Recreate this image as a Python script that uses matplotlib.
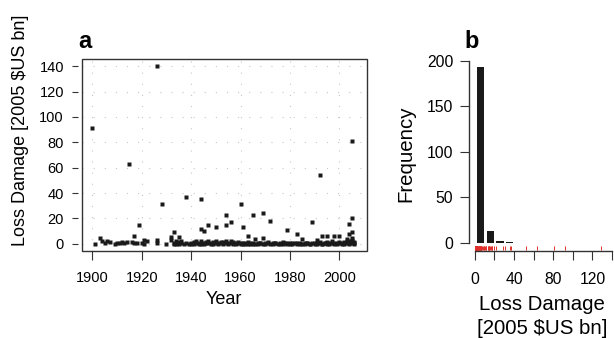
import numpy as np
import matplotlib.pyplot as plt
from matplotlib.patches import Rectangle

plt.rcParams['font.family'] = ['Liberation Sans', 'DejaVu Sans']

# Damaging events: year and normalised loss (2005 $US bn)
years_large = [1900, 1926, 1915, 1928, 1938, 1944, 1960, 2005, 1992, 1919,
               1954, 1954, 1956, 1947, 1950, 1944, 1945, 1933, 1961, 1965,
               1969, 1972, 1979, 1983, 1989, 2005, 2004, 2005, 2004, 1993,
               1995, 1998, 2000, 2003, 1903, 1904, 1906, 1917, 1921, 1926,
               1963, 1966, 1969, 1985, 1991, 1932, 1935]
loss_large = [91, 140, 63, 31.5, 37, 35.5, 31.5, 81, 54.5, 14.5,
              23, 15, 17, 15, 13, 11.5, 10, 9.5, 13, 23,
              24, 18, 11, 7.5, 17.5, 20.5, 15.5, 9, 8, 6,
              6, 6, 6, 4, 5, 2.5, 2.5, 6, 3, 3,
              6, 4, 5, 4, 3, 5.5, 5.5]

years_small = [1901, 1905, 1907, 1909, 1910, 1911, 1912, 1913, 1914, 1916,
               1917, 1918, 1920, 1921, 1922, 1926, 1930, 1932, 1933, 1933,
               1934, 1934, 1935, 1935, 1936, 1936, 1937, 1938, 1939, 1940,
               1940, 1941, 1941, 1942, 1942, 1943, 1943, 1944, 1944, 1945,
               1945, 1946, 1946, 1947, 1947, 1948, 1948, 1949, 1949, 1950,
               1950, 1951, 1951, 1952, 1952, 1953, 1953, 1954, 1954, 1955,
               1955, 1956, 1956, 1957, 1957, 1958, 1958, 1959, 1959, 1960,
               1960, 1961, 1961, 1962, 1962, 1963, 1963, 1964, 1964, 1965,
               1965, 1966, 1967, 1967, 1968, 1968, 1969, 1970, 1970, 1971,
               1971, 1972, 1973, 1973, 1974, 1974, 1975, 1976, 1976, 1977,
               1977, 1978, 1979, 1979, 1980, 1980, 1981, 1981, 1982, 1983,
               1983, 1984, 1984, 1985, 1986, 1986, 1987, 1987, 1988, 1988,
               1989, 1990, 1990, 1991, 1991, 1992, 1992, 1993, 1993, 1994,
               1994, 1995, 1995, 1996, 1996, 1997, 1997, 1998, 1998, 1999,
               1999, 2000, 2000, 2001, 2001, 2002, 2002, 2003, 2003, 2004,
               2004, 2004, 2005, 2005, 2005, 2005, 2006, 2006, 2006]
loss_small = [0.2, 1, 1.2, 0.3, 0.5, 0.4, 1.5, 0.8, 1.8, 1.2,
              1, 0.5, 0.8, 0.2, 2, 1, 0.2, 3, 1, 0.3,
              2, 0.2, 1.5, 0.2, 0.5, 2.5, 0.2, 0.4, 0.3, 0.2,
              1, 1.5, 0.3, 0.5, 2, 1, 0.2, 2.5, 0.3, 1,
              0.2, 1.8, 0.4, 0.6, 2, 1, 0.2, 1.5, 0.3, 2,
              0.5, 1, 0.2, 0.6, 1.8, 0.3, 1.2, 2.5, 0.5, 1,
              0.2, 0.4, 2.2, 1.5, 0.3, 0.8, 0.2, 0.5, 1.2, 0.3,
              0.8, 0.4, 0.2, 0.3, 0.6, 1.5, 0.2, 0.4, 0.3, 0.5,
              0.2, 0.3, 0.2, 0.5, 0.4, 1, 0.3, 0.2, 0.6, 0.4,
              1.2, 0.3, 0.2, 0.5, 0.4, 1, 0.3, 0.5, 0.2, 0.3,
              1.5, 0.4, 0.2, 1, 0.5, 0.3, 0.2, 0.8, 0.4, 0.3,
              1, 0.2, 0.6, 0.3, 0.5, 0.2, 0.4, 1, 0.3, 0.2,
              0.6, 0.3, 1, 0.2, 0.5, 0.4, 1.2, 0.3, 0.2, 0.8,
              0.4, 0.3, 1.5, 0.2, 0.6, 0.4, 2, 0.3, 1, 0.5,
              0.2, 0.4, 1.5, 0.3, 0.8, 0.2, 1.2, 0.5, 2, 0.3,
              1, 2.5, 0.4, 1.5, 3, 4.5, 0.2, 0.8, 1.8]

years = np.array(years_large + years_small)
loss = np.array(loss_large + loss_small)

# Histogram counts (bins of 10) and the rug tail beyond the dense part
bin_edges = [0, 10, 20, 30, 40]
counts = [193, 13, 2, 1]
rug_tail = [20, 22, 29, 31, 36, 37, 52, 63, 81, 92, 129]

fig = plt.figure(figsize=(6.14, 3.38), dpi=100)
ink = '#1a1a1a'

# ---- panel a: scatter of losses by year
ax = fig.add_axes([82 / 614, (338 - 251) / 338, 285 / 614, 192 / 338])
ax.set_xlim(1895.8, 2011.2)
ax.set_ylim(-5.6, 145.6)
for x in range(1900, 2001, 20):
    ax.axvline(x, color='#c8c8c8', lw=0.8, ls=(0, (1, 9)), zorder=0)
for y in range(0, 141, 20):
    ax.axhline(y, color='#c8c8c8', lw=0.8, ls=(0, (1, 9)), zorder=0)
ax.plot(years, loss, 's', ms=2.8, color=ink, mec='none')

for s in ax.spines.values():
    s.set_visible(False)
ax.spines['left'].set_position(('outward', 3))
ax.add_patch(Rectangle((0, 0), 1, 1, transform=ax.transAxes, fill=False,
                       lw=1.0, ec='#333333', clip_on=False))
ax.set_xticks(range(1900, 2001, 20))
ax.set_yticks(range(0, 141, 20))
ax.tick_params(axis='y', length=4, width=0.8, pad=6, labelsize=10.5, color='#333333')
ax.tick_params(axis='x', length=6.5, width=0.8, pad=8, labelsize=10.5, color='#333333')

fig.text(78 / 614, 1 - 48 / 338, 'a', fontsize=17, fontweight='bold', ha='left', va='baseline')
fig.text(21 / 614, 1 - 130 / 338, 'Loss Damage [2005 $US bn]', fontsize=13,
         rotation=90, ha='center', va='center')
fig.text(224 / 614, 1 - 300 / 338, 'Year', fontsize=13, ha='center', va='center')

# ---- panel b: histogram of losses with rug
bx = fig.add_axes([469.3 / 614, (338 - 250.7) / 338, (614 - 469.3) / 614, 194.5 / 338])
bx.set_xlim(-5.6, 142)
bx.set_ylim(-8.8, 205)
centers = np.array(bin_edges[:-1]) + 5.7
bx.bar(centers, counts, width=7.5, color=ink, edgecolor='none')
rug = np.concatenate([loss[loss < 19], rug_tail])
bx.vlines(rug, -8.5, -3.5, color='#e0302a', lw=0.7)

bx.spines['top'].set_visible(False)
bx.spines['right'].set_visible(False)
bx.spines['left'].set_bounds(0, 200)
bx.spines['bottom'].set_bounds(0, 140)
for s in ('left', 'bottom'):
    bx.spines[s].set_linewidth(1.0)
    bx.spines[s].set_color('#333333')
bx.set_yticks(range(0, 201, 50))
bx.set_xticks(range(0, 141, 20))
bx.set_xticklabels([str(v) if v % 40 == 0 else '' for v in range(0, 141, 20)])
bx.tick_params(axis='both', length=6.5, width=0.8, labelsize=11.3, color='#333333')
bx.tick_params(axis='y', pad=5)
bx.tick_params(axis='x', pad=9)

fig.text(464 / 614, 1 - 48 / 338, 'b', fontsize=17, fontweight='bold', ha='left', va='baseline')
fig.text(406 / 614, 1 - 154 / 338, 'Frequency', fontsize=14.7, rotation=90,
         ha='center', va='center')
fig.text(542 / 614, 1 - 304 / 338, 'Loss Damage', fontsize=14.7, ha='center', va='center')
fig.text(542 / 614, 1 - 329 / 338, '[2005 $US bn]', fontsize=14.7, ha='center', va='center')

fig.savefig('out.png', dpi=100)
